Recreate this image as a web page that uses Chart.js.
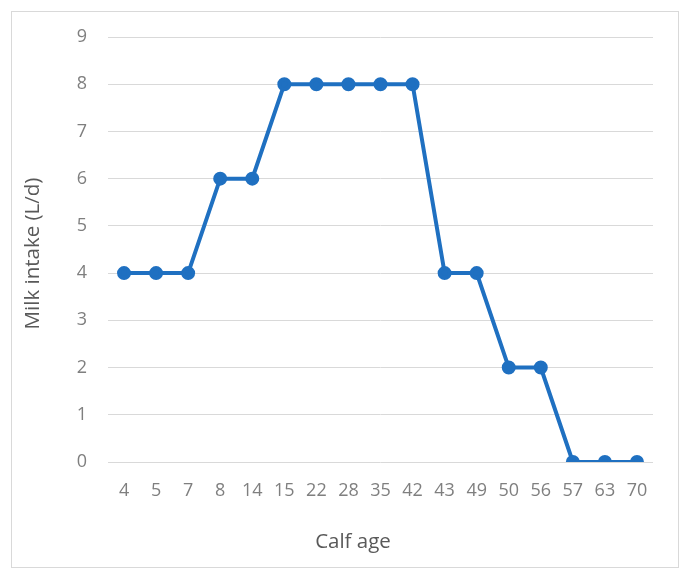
<!DOCTYPE html>
<html>
<head>
<meta charset="utf-8">
<script src="https://cdn.jsdelivr.net/npm/chart.js@4/dist/chart.umd.min.js"></script>
<style>
    html, body { margin: 0; padding: 0; background: #fff; }
    #wrap {
        position: absolute; left: 11px; top: 11px;
        width: 666px; height: 555px;
        border: 1px solid #d9d9d9;
    }
</style>
</head>
<body>
<div id="wrap"><canvas id="milkChart" width="666" height="555"></canvas></div>
<script>
// data
var calfAge = ['4', '5', '7', '8', '14', '15', '22', '28', '35', '42', '43', '49', '50', '56', '57', '63', '70'];
var milkIntake = [4, 4, 4, 6, 6, 8, 8, 8, 8, 8, 4, 4, 2, 2, 0, 0, 0];
var yTicks = [0, 1, 2, 3, 4, 5, 6, 7, 8, 9];
var xTitle = 'Calf age';
var yTitle = 'Milk intake (L/d)';

var blue = '#1f70c1';
var fontFam = "'Open Sans', 'Liberation Sans', sans-serif";

// axis titles: the x title is centred on the whole chart, not on the plot area
var axisTitles = {
    id: 'axisTitles',
    afterDraw: function (chart) {
        var c = chart.ctx;
        c.save();
        c.fillStyle = '#595959';
        c.font = '20.5px ' + fontFam;
        c.textAlign = 'center';
        c.textBaseline = 'middle';
        c.fillText(xTitle, chart.width / 2 + 8, 530);
        c.translate(21, (chart.chartArea.top + chart.chartArea.bottom) / 2 + 4);
        c.rotate(-Math.PI / 2);
        c.fillText(yTitle, 0, 0);
        c.restore();
    }
};

var ctx = document.getElementById('milkChart').getContext('2d');
var milkChart = new Chart(ctx, {
    type: 'line',
    data: {
        labels: calfAge,
        datasets: [{
            label: 'Milk intake',
            data: milkIntake,
            borderColor: blue,
            backgroundColor: blue,
            borderWidth: 4,
            pointRadius: 5,
            pointBackgroundColor: blue,
            pointBorderColor: blue,
            tension: 0
        }]
    },
    options: {
        responsive: false,
        animation: false,
        layout: { padding: { top: 25, right: 25, left: 0, bottom: 0 } },
        plugins: { legend: { display: false }, tooltip: { enabled: false } },
        scales: {
            x: {
                offset: true,
                grid: { display: false, drawTicks: false },
                border: { display: false },
                ticks: { color: '#7f7f7f', font: { family: fontFam, size: 18 }, padding: 18, maxRotation: 0, autoSkip: false },
                afterFit: function (s) { s.height = 105; s.paddingLeft = 0; s.paddingRight = 0; }
            },
            y: {
                min: 0, max: 9,
                afterBuildTicks: function (s) { s.ticks = yTicks.map(function (v) { return { value: v }; }); },
                grid: { color: '#d9d9d9', lineWidth: 1, drawTicks: false },
                border: { display: false },
                ticks: { color: '#7f7f7f', font: { family: fontFam, size: 18 }, padding: 21 },
                afterFit: function (s) { s.width = 96; s.paddingTop = 0; s.paddingBottom = 0; }
            }
        }
    },
    plugins: [axisTitles]
});
</script>
</body>
</html>
